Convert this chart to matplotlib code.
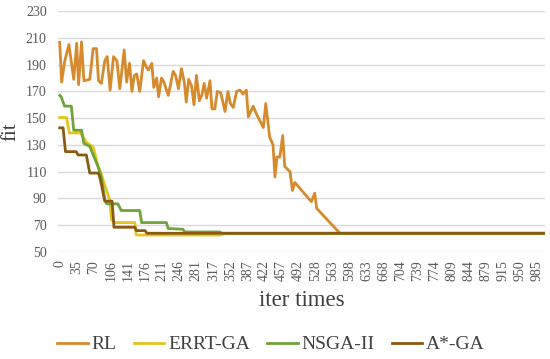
import numpy as np
import matplotlib
matplotlib.use('Agg')
import matplotlib.pyplot as plt

plt.rcParams['font.family'] = ['Liberation Serif', 'DejaVu Serif']

# RL curve (iteration, fit)
rl_x = [0, 4, 10, 19, 29, 35, 39, 45, 50, 62, 69, 76, 80, 86, 93, 98, 104, 111, 118, 124,
        133, 138, 144, 149, 154, 159, 165, 173, 179, 183, 190, 194, 200, 204, 210, 215, 224,
        234, 239, 245, 251, 257, 261, 266, 272, 277, 282, 288, 293, 298, 303, 310, 314, 320,
        325, 332, 336, 341, 347, 352, 358, 365, 372, 378, 385, 389, 399, 406, 420, 425, 433,
        440, 444, 448, 454, 460, 464, 475, 480, 485, 519, 526, 530, 578, 1000]
rl_y = [206.7, 177, 192, 205, 179, 206, 175, 207, 178, 179, 202, 202, 178, 176, 193, 196, 171, 196, 193, 172,
        201, 177, 191, 170, 182, 183, 170, 193, 188, 186, 191, 173, 180, 166, 180, 177, 167,
        185, 182, 172, 187, 177, 162, 179, 174, 160, 182, 163, 167, 176, 165, 178, 157, 157,
        170, 169, 163, 155, 170, 161, 158, 170, 171, 168, 171, 151, 159, 153, 143, 161, 136,
        130, 106, 121, 121, 137, 114, 110, 96, 102, 87.6, 94, 82.6, 64, 64]

errt_x = [0, 14, 20, 43, 55, 69, 76, 79, 84, 93, 103, 107, 113, 155, 158, 330, 340, 1000]
errt_y = [150.5, 150.5, 139, 139, 132, 128.5, 119, 114, 110, 100, 89, 74, 72, 72, 62.7, 62.7, 63.7, 63.7]

nsga_x = [0, 3, 10, 24, 29, 45, 50, 62, 72, 79, 86, 93, 97, 120, 127, 165, 169, 220, 224,
          254, 258, 330, 335, 1000]
nsga_y = [167, 166, 159, 159, 141, 141, 131, 129, 120, 114, 106, 89, 86, 86, 81, 81, 72, 72, 67.6,
          67, 65, 65, 64, 64]

astar_x = [0, 7, 12, 34, 38, 55, 62, 80, 84, 93, 108, 112, 155, 158, 176, 180, 1000]
astar_y = [142.8, 142.8, 125, 125, 122.5, 122.5, 109, 109, 104, 88, 88, 68.5, 68.5, 66, 66, 64, 64]

xtick_vals = [0, 35, 70, 106, 141, 176, 211, 246, 281, 317, 352, 387, 422, 457, 492, 528,
              563, 598, 633, 668, 704, 739, 774, 809, 844, 879, 915, 950, 985]
ytick_vals = list(range(50, 231, 20))

fig = plt.figure(figsize=(5.5, 3.59), dpi=100)
ax = fig.add_axes([0.105, 0.298, 0.886, 0.671])

lw = 2.0
ax.plot(rl_x, rl_y, color='#D68A2C', lw=lw, label='RL')
ax.plot(errt_x, errt_y, color='#E6C41C', lw=lw, label='ERRT-GA')
ax.plot(nsga_x, nsga_y, color='#6FA43A', lw=lw, label='NSGA-II')
ax.plot(astar_x, astar_y, color='#8A5A12', lw=lw, label='A*-GA')

ax.set_xlim(-4, 1001)
ax.set_ylim(50, 230)
ax.set_yticks(ytick_vals)
ax.set_xticks(xtick_vals)
ax.set_xticklabels([str(v) for v in xtick_vals], rotation=90)
ax.tick_params(axis='both', length=0, labelsize=10, colors='#595959')
ax.tick_params(axis='x', pad=6)
ax.tick_params(axis='y', pad=8)
ax.grid(axis='y', color='#D9D9D9', lw=1)
ax.set_axisbelow(True)
for s in ax.spines.values():
    s.set_visible(False)

ax.set_xlabel('iter times', fontsize=16.5, color='#404040', labelpad=6)
ax.set_ylabel('fit', fontsize=15, color='#404040', labelpad=4)

leg = fig.legend(loc='center', bbox_to_anchor=(0.493, 0.04), ncol=4, frameon=False,
                 fontsize=14, handlelength=1.55, columnspacing=0.9, handletextpad=0.2)
for t in leg.get_texts():
    t.set_color('#404040')

fig.savefig('out.png', dpi=100)
